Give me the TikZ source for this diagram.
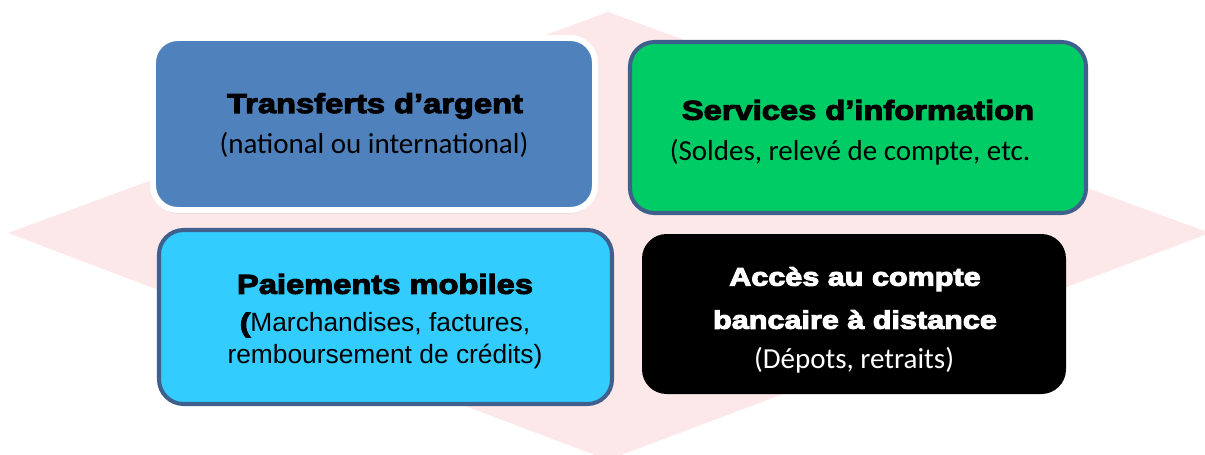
\documentclass[tikz,border=0pt]{standalone}
\usepackage{fontspec}
\usetikzlibrary{shadows}
\newfontfamily\heavyfont[FakeBold=4,FakeStretch=1.2]{Liberation Sans Bold}
\newfontfamily\calfont{Carlito}
\newfontfamily\arialfont{Liberation Sans}
\definecolor{pinkbg}{HTML}{FDE8E9}
\definecolor{tblue}{HTML}{4F81BD}
\definecolor{sgreen}{HTML}{00CC66}
\definecolor{pcyan}{HTML}{33CCFF}
\definecolor{frame}{HTML}{3F608C}
\tikzset{
  BoxStyle/.style = { rectangle, rounded corners=14pt, align=center,
                      inner sep=0pt },
  TitleStyle/.style = { font = \heavyfont\fontsize{15.5}{22}\selectfont } }

\begin{document}
\begin{tikzpicture}[x=0.02cm,y=-0.02cm]
  \useasboundingbox (0,0) rectangle (1205,454);
  \fill[pinkbg] (608,12) -- (1210,233) -- (608,460) -- (8,233) -- cycle;

  \node[BoxStyle, fill=tblue, draw=white, line width=3.4pt,
        minimum width=442*0.02cm, minimum height=172*0.02cm,
        drop shadow={opacity=0.2, shadow xshift=0pt, shadow yshift=-2pt}]
    (transfer) at (374,124) {};
  \node[BoxStyle, fill=sgreen, draw=frame, line width=2.3pt,
        minimum width=456*0.02cm, minimum height=171*0.02cm]
    (info) at (858,127.5) {};
  \node[BoxStyle, fill=pcyan, draw=frame, line width=2.3pt,
        minimum width=453*0.02cm, minimum height=174*0.02cm]
    (pay) at (385.5,317) {};
  \node[BoxStyle, fill=black,
        minimum width=424*0.02cm, minimum height=160*0.02cm]
    (access) at (854,314) {};

  \node[TitleStyle] (transferT) at (375,106) {Transferts d’argent};
  \node[font=\calfont\fontsize{16.5}{20}\selectfont] (transferS) at (374,145)
    {(national ou international)};

  \node[TitleStyle] (infoT) at (858,110) {Services d’information};
  \node[font=\calfont\fontsize{16.5}{20}\selectfont] (infoS) at (850,152)
    {(Soldes, relevé de compte, etc.};

  \node[TitleStyle] (payT) at (385,284) {Paiements mobiles};
  \node[font=\arialfont\fontsize{15}{18.2}\selectfont, align=center] (payS)
    at (385,341) {{\heavyfont (}Marchandises, factures,\\
    remboursement de crédits)};

  \node[TitleStyle, text=white, align=center,
        font=\heavyfont\fontsize{14.5}{24.5}\selectfont] (accessT)
    at (855,298) {Accès au compte\\ bancaire à distance};
  \node[text=white, font=\calfont\fontsize{16.5}{20}\selectfont] (accessS)
    at (854,360) {(Dépots, retraits)};
\end{tikzpicture}
\end{document}
